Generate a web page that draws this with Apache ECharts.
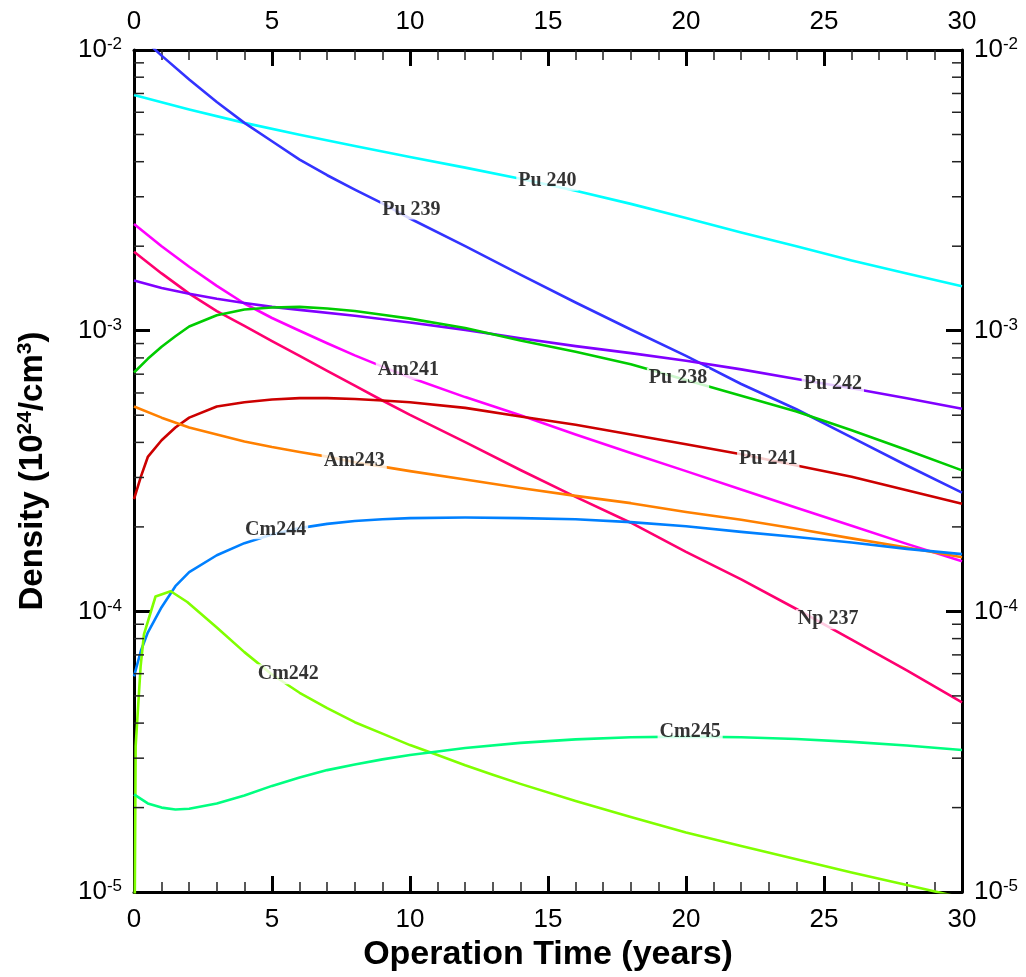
<!DOCTYPE html>
<html>
<head>
<meta charset="utf-8">
<script src="https://cdn.jsdelivr.net/npm/echarts@6/dist/echarts.min.js"></script>
<style>html,body{margin:0;padding:0;background:#fff}#c{width:1026px;height:977px}</style>
</head>
<body>
<div id="c"></div>
<script>
// ---- data (x = operation time in years, y = density in 1e24/cm^3) ----
const xTicks = [0, 5, 10, 15, 20, 25, 30];
const yDecades = [1e-5, 1e-4, 1e-3, 1e-2];

const pu240 = [[0,6.92e-3],[2,6.14e-3],[4,5.50e-3],[6,4.99e-3],[8,4.55e-3],[10,4.16e-3],[12,3.81e-3],[14,3.48e-3],[16,3.15e-3],[18,2.83e-3],[20,2.52e-3],[22,2.24e-3],[24,2.00e-3],[26,1.78e-3],[28,1.60e-3],[30,1.44e-3]];
const pu239 = [[0,1.175e-2],[1,9.55e-3],[2,7.85e-3],[3,6.53e-3],[4,5.50e-3],[5,4.73e-3],[6,4.07e-3],[7,3.58e-3],[8,3.18e-3],[9,2.84e-3],[10,2.51e-3],[12,2.00e-3],[14,1.585e-3],[16,1.26e-3],[18,1.01e-3],[20,8.13e-4],[22,6.46e-4],[24,5.25e-4],[26,4.17e-4],[28,3.31e-4],[30,2.65e-4]];
const am241 = [[0,2.40e-3],[1,2.00e-3],[2,1.69e-3],[3,1.445e-3],[4,1.25e-3],[5,1.11e-3],[6,1.00e-3],[7,9.02e-4],[8,8.17e-4],[9,7.45e-4],[10,6.81e-4],[12,5.80e-4],[14,5.00e-4],[16,4.27e-4],[18,3.67e-4],[20,3.16e-4],[22,2.72e-4],[24,2.34e-4],[26,2.02e-4],[28,1.74e-4],[30,1.51e-4]];
const np237 = [[0,1.91e-3],[1,1.60e-3],[2,1.355e-3],[3,1.175e-3],[4,1.04e-3],[5,9.18e-4],[6,8.13e-4],[7,7.19e-4],[8,6.37e-4],[9,5.64e-4],[10,5.01e-4],[12,4.01e-4],[14,3.19e-4],[16,2.56e-4],[18,2.07e-4],[20,1.63e-4],[22,1.30e-4],[24,1.02e-4],[26,7.94e-5],[28,6.17e-5],[30,4.74e-5]];
const pu242 = [[0,1.51e-3],[1,1.42e-3],[2,1.355e-3],[3,1.30e-3],[4,1.256e-3],[5,1.216e-3],[6,1.186e-3],[8,1.13e-3],[10,1.07e-3],[12,1.007e-3],[14,9.40e-4],[16,8.81e-4],[18,8.32e-4],[20,7.82e-4],[22,7.28e-4],[24,6.73e-4],[26,6.24e-4],[28,5.75e-4],[30,5.27e-4]];
const pu238 = [[0,7.10e-4],[0.5,7.94e-4],[1,8.77e-4],[1.5,9.55e-4],[2,1.035e-3],[3,1.135e-3],[4,1.19e-3],[5,1.21e-3],[6,1.216e-3],[7,1.20e-3],[8,1.175e-3],[9,1.14e-3],[10,1.104e-3],[12,1.023e-3],[14,9.23e-4],[16,8.41e-4],[18,7.59e-4],[20,6.68e-4],[22,5.86e-4],[24,5.15e-4],[26,4.42e-4],[28,3.76e-4],[30,3.18e-4]];
const pu241 = [[0,2.51e-4],[0.25,3.02e-4],[0.5,3.55e-4],[1,4.07e-4],[1.5,4.52e-4],[2,4.90e-4],[3,5.37e-4],[4,5.56e-4],[5,5.69e-4],[6,5.75e-4],[7,5.75e-4],[8,5.71e-4],[9,5.64e-4],[10,5.56e-4],[12,5.31e-4],[14,4.95e-4],[16,4.62e-4],[18,4.27e-4],[20,3.94e-4],[22,3.63e-4],[24,3.31e-4],[26,3.02e-4],[28,2.70e-4],[30,2.42e-4]];
const am243 = [[0,5.37e-4],[1,4.90e-4],[2,4.52e-4],[3,4.27e-4],[4,4.03e-4],[5,3.85e-4],[6,3.70e-4],[7,3.56e-4],[8,3.40e-4],[9,3.28e-4],[10,3.16e-4],[12,2.95e-4],[14,2.75e-4],[16,2.58e-4],[18,2.43e-4],[20,2.26e-4],[22,2.12e-4],[24,1.97e-4],[26,1.82e-4],[28,1.69e-4],[30,1.56e-4]];
const cm244 = [[0,5.87e-5],[0.25,7.24e-5],[0.5,8.41e-5],[1,1.035e-4],[1.5,1.23e-4],[2,1.38e-4],[3,1.585e-4],[4,1.75e-4],[5,1.88e-4],[6,1.98e-4],[7,2.05e-4],[8,2.10e-4],[9,2.13e-4],[10,2.15e-4],[12,2.16e-4],[14,2.15e-4],[16,2.13e-4],[18,2.08e-4],[20,2.01e-4],[22,1.92e-4],[24,1.84e-4],[26,1.76e-4],[28,1.67e-4],[30,1.60e-4]];
const cm242 = [[0,3e-6],[0.06,3.31e-5],[0.24,6.37e-5],[0.36,8.28e-5],[0.78,1.13e-4],[1.33,1.18e-4],[1.93,1.08e-4],[3,8.77e-5],[4,7.16e-5],[5,5.96e-5],[6,5.13e-5],[7,4.52e-5],[8,4.03e-5],[9,3.67e-5],[10,3.34e-5],[11,3.08e-5],[12,2.83e-5],[13,2.62e-5],[14,2.43e-5],[16,2.11e-5],[18,1.85e-5],[20,1.63e-5],[22,1.46e-5],[24,1.31e-5],[26,1.175e-5],[28,1.06e-5],[30,9.55e-6]];
const cm245 = [[0,2.23e-5],[0.5,2.07e-5],[1,2.00e-5],[1.5,1.97e-5],[2,1.98e-5],[3,2.07e-5],[4,2.21e-5],[5,2.39e-5],[6,2.56e-5],[7,2.72e-5],[8,2.85e-5],[9,2.97e-5],[10,3.08e-5],[12,3.26e-5],[14,3.40e-5],[16,3.50e-5],[18,3.56e-5],[20,3.58e-5],[22,3.56e-5],[24,3.51e-5],[26,3.43e-5],[28,3.33e-5],[30,3.21e-5]];

const seriesNames = ['Pu 240','Pu 239','Am241','Np 237','Pu 242','Pu 238','Pu 241','Am243','Cm244','Cm242','Cm245'];
const seriesData  = [pu240, pu239, am241, np237, pu242, pu238, pu241, am243, cm244, cm242, cm245];
const seriesColors = ['#00ffff','#3333ff','#ff00ff','#ff0070','#8000ff','#00cc00','#cc0000','#ff8000','#0080ff','#80ff00','#00ff80'];

// in-line curve labels, [years, density]
const labelNames = ['Pu 240','Pu 239','Am241','Pu 238','Pu 242','Pu 241','Am243','Cm244','Np 237','Cm242','Cm245'];
const labelAt = [[14.98,3.42e-3],[10.05,2.70e-3],[9.94,7.26e-4],[19.71,6.78e-4],[25.32,6.47e-4],[22.98,3.50e-4],[7.98,3.44e-4],[5.13,1.96e-4],[25.15,9.38e-5],[5.59,5.97e-5],[20.15,3.72e-5]];

// log-axis minor tick values (2..9 per decade)
const yMinor = [];
yDecades.slice(0, 3).forEach(d => { for (let m = 2; m <= 9; m++) yMinor.push(m * d); });

// ---- styling ----
const SANS = "'Liberation Sans', Arial, Helvetica, sans-serif";
const SERIF = "'Liberation Serif', 'Times New Roman', serif";

function xAxisDef(pos) {
  return {
    type: 'value', position: pos, min: 0, max: 30, interval: 5,
    axisLine: { show: true, onZero: false, lineStyle: { color: '#000', width: 3 } },
    axisTick: { show: true, inside: true, length: 16, lineStyle: { color: '#000', width: 3 } },
    minorTick: { show: true, splitNumber: 5, length: 10, lineStyle: { color: '#222', width: 1.5 } },
    axisLabel: { show: true, margin: 15, fontSize: 26, fontFamily: SANS, color: '#000',
      formatter: v => xTicks.includes(v) ? String(v) : '' },
    splitLine: { show: false }, minorSplitLine: { show: false }
  };
}
const supRich = {
  b: { fontSize: 26, fontFamily: SANS, color: '#000', lineHeight: 28 },
  s: { fontSize: 17, fontFamily: SANS, color: '#000', verticalAlign: 'top', lineHeight: 17 }
};
function yAxisDef(pos) {
  return {
    type: 'log', logBase: 10, position: pos, min: 1e-5, max: 1e-2,
    axisLine: { show: true, onZero: false, lineStyle: { color: '#000', width: 3 } },
    axisTick: { show: true, inside: true, length: 16, lineStyle: { color: '#000', width: 3 } },
    minorTick: { show: false },
    axisLabel: { show: true, margin: 12, color: '#000',
      formatter: v => '{b|10}{s|' + Math.round(Math.log10(v)) + '}', rich: supRich },
    splitLine: { show: false }
  };
}

const xBottom = xAxisDef('bottom');
xBottom.name = 'Operation Time (years)';
xBottom.nameLocation = 'middle';
xBottom.nameGap = 45;
xBottom.nameTextStyle = { fontSize: 34, fontWeight: 'bold', fontFamily: SANS, color: '#000' };

const yLeft = yAxisDef('left');
yLeft.name = '{a|Density (10}{s|24}{a|/cm}{s|3}{a|)}';
yLeft.nameLocation = 'middle';
yLeft.nameRotate = 90;
yLeft.nameGap = 84;
yLeft.nameTextStyle = {
  rich: {
    a: { fontSize: 33, fontWeight: 'bold', fontFamily: SANS, color: '#000', lineHeight: 35 },
    s: { fontSize: 21, fontWeight: 'bold', fontFamily: SANS, color: '#000', verticalAlign: 'top', lineHeight: 21 }
  }
};

const series = seriesNames.map((n, i) => ({
  name: n, type: 'line', data: seriesData[i], xAxisIndex: 0, yAxisIndex: 0,
  showSymbol: false, symbol: 'none', smooth: false,
  clip: true, lineStyle: { color: seriesColors[i], width: 2.6, join: 'round' }, z: 3, silent: true
}));

series.push({
  type: 'custom', xAxisIndex: 0, yAxisIndex: 0, silent: true, z: 5,
  data: yMinor.map(v => [0, v]),
  renderItem: (params, api) => {
    const v = api.value(1);
    const pL = api.coord([0, v]);
    const pR = api.coord([30, v]);
    const st = { stroke: '#222', lineWidth: 1.5 };
    return { type: 'group', children: [
      { type: 'line', shape: { x1: pL[0], y1: pL[1], x2: pL[0] + 10, y2: pL[1] }, style: st },
      { type: 'line', shape: { x1: pR[0] - 10, y1: pR[1], x2: pR[0], y2: pR[1] }, style: st }
    ] };
  }
});

series.push({
  type: 'scatter', xAxisIndex: 0, yAxisIndex: 0, silent: true, z: 10,
  symbol: 'circle', symbolSize: 1, itemStyle: { color: 'rgba(0,0,0,0)' },
  data: labelAt.map((p, i) => ({ value: p, name: labelNames[i] })),
  label: { show: true, position: 'inside', formatter: p => p.name,
    fontFamily: SERIF, fontWeight: 'bold', fontSize: 20, color: '#000',
    backgroundColor: '#fff', padding: [0, 2], lineHeight: 20 }
});

const chart = echarts.init(document.getElementById('c'), null, { renderer: 'canvas' });
chart.setOption({
  animation: false,
  backgroundColor: '#fff',
  grid: { left: 134, right: 64, top: 50, bottom: 84, containLabel: false },
  xAxis: [xBottom, xAxisDef('top')],
  yAxis: [yLeft, yAxisDef('right')],
  series: series
});
</script>
</body>
</html>
